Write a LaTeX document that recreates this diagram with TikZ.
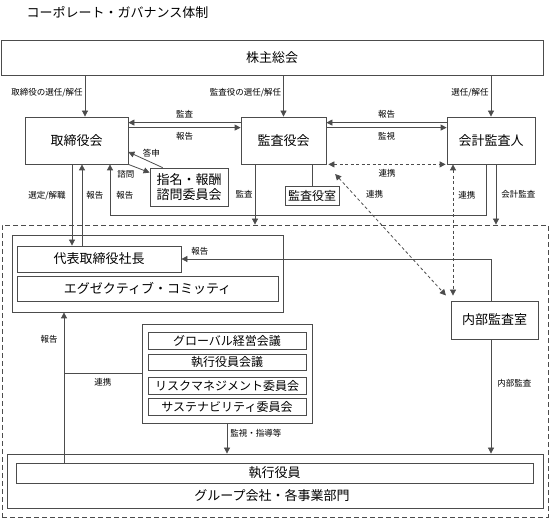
\documentclass[tikz,border=0pt]{standalone}
\usepackage{fontspec}
\setmainfont{Noto Sans CJK JP}
\usetikzlibrary{arrows.meta}
\definecolor{lc}{gray}{0.3}

\begin{document}
\begin{tikzpicture}[x=1pt, y=-1pt,
  box/.style={draw=lc, line width=.8pt, inner sep=0pt, align=center, font=\fontsize{13pt}{15pt}\selectfont},
  sbox/.style={box, font=\fontsize{12pt}{14pt}\selectfont},
  frame/.style={draw=lc, line width=.8pt, inner sep=0pt},
  lbl/.style={font=\fontsize{8.5pt}{10pt}\selectfont, inner sep=2pt},
  link/.style={draw=lc, line width=.8pt},
  arr/.style={link, -{Triangle[length=6pt,width=6pt]}},
  darr/.style={link, dash pattern=on 3pt off 2.5pt, {Triangle[length=6pt,width=6pt]}-{Triangle[length=6pt,width=6pt]}},
  opsbox/.style={draw=lc, line width=.8pt, dash pattern=on 5pt off 3pt}]
\useasboundingbox (0,0) rectangle (549,518);

%% columns and corners of the lines
\coordinate (xa) at (85,0);
\coordinate (xs) at (72,0);
\coordinate (xr) at (82,0);
\coordinate (xm) at (255,0);
\coordinate (xv) at (453,0);
\coordinate (xi) at (491,0);
\coordinate (xc) at (496,0);
\coordinate (xe) at (64,0);
\coordinate (rp1) at (486,215);
\coordinate (rp2) at (110,215);

%% boxes
\node[font=\fontsize{13pt}{15pt}\selectfont] (title) at (117.5,12) {コーポレート・ガバナンス体制};
\node[box, minimum width=542pt, minimum height=35pt] (gm) at (272,57.5) {株主総会};
\node[box, minimum width=103pt, minimum height=47pt] (bod) at (76.5,140.5) {取締役会};
\node[box, minimum width=85pt, minimum height=47pt] (asb) at (283.5,140.5) {監査役会};
\node[box, minimum width=88pt, minimum height=47pt] (aud) at (491,140.5) {会計監査人};
\node[box, minimum width=78pt, minimum height=38pt] (ncc) at (189,187) {指名・報酬\\諮問委員会};
\node[sbox, minimum width=54pt, minimum height=19pt] (aso) at (312,195.5) {監査役室};
\node[opsbox, minimum width=546pt, minimum height=292pt] (ops) at (275,371) {};
\node[frame, minimum width=271pt, minimum height=77pt] (topG) at (147.5,273.5) {};
\node[box, minimum width=164pt, minimum height=26pt] (ceo) at (99,259) {代表取締役社長};
\node[box, minimum width=261pt, minimum height=25pt] (exc) at (147.5,288.5) {エグゼクティブ・コミッティ};
\node[box, minimum width=87pt, minimum height=38pt] (iad) at (494.5,320) {内部監査室};
\node[frame, minimum width=170pt, minimum height=99pt] (cmG) at (227,373.5) {};
\node[sbox, minimum width=158pt, minimum height=17pt] (c1) at (227,340.5) {グローバル経営会議};
\node[sbox, minimum width=158pt, minimum height=16pt] (c2) at (227,362) {執行役員会議};
\node[sbox, minimum width=158pt, minimum height=17pt] (c3) at (227,385.5) {リスクマネジメント委員会};
\node[sbox, minimum width=158pt, minimum height=17pt] (c4) at (227,406.5) {サステナビリティ委員会};
\node[frame, minimum width=536pt, minimum height=54pt] (exG) at (275,481) {};
\node[box, minimum width=517pt, minimum height=20pt] (exo) at (274.5,473) {執行役員};
\node[font=\fontsize{13pt}{15pt}\selectfont] (grp) at (272,495.5) {グループ会社・各事業部門};

%% from the shareholders
\draw[arr] (gm.south -| xa) -- node[lbl, left, pos=.43]{取締役の選任/解任} (bod.north -| xa);
\draw[arr] (gm.south -| asb.north) -- node[lbl, left, pos=.43]{監査役の選任/解任} (asb.north);
\draw[arr] (gm.south -| aud.north) -- node[lbl, left, pos=.43]{選任/解任} (aud.north);

%% board, auditors, accounting auditor
\draw[arr] ([yshift=-6pt]asb.north west) -- node[lbl, above=2pt]{監査} ([yshift=-6pt]bod.north east);
\draw[arr] ([yshift=-11pt]bod.north east) -- node[lbl, below=2pt]{報告} ([yshift=-11pt]asb.north west);
\draw[arr] ([yshift=-6pt]aud.north west) -- node[lbl, above=2pt]{報告} ([yshift=-6pt]asb.north east);
\draw[arr] ([yshift=-11pt]asb.north east) -- node[lbl, below=2pt]{監視} ([yshift=-11pt]aud.north west);
\draw[darr] ([xshift=2pt]asb.south east) -- node[lbl, below=3pt]{連携} ([xshift=-1pt]aud.south west);

%% nomination and remuneration committee
\draw[arr] (bod.south east) -- node[lbl, below left, pos=.4]{諮問} ([yshift=-5pt]ncc.north west);
\draw[arr] ([xshift=13pt]ncc.north west) -- node[lbl, above right, pos=.6, inner sep=.5pt]{答申} ([yshift=-11.5pt]bod.east);

%% board and president
\draw[arr] (bod.south -| xs) -- node[lbl, left=4pt, pos=.38]{選定/解職} (ceo.north -| xs);
\draw[arr] (ceo.north -| xr) -- node[lbl, right=2pt, pos=.62]{報告} (bod.south -| xr);
\draw[arr] (aud.south -| rp1) -- (rp1) -- (rp2) -- node[lbl, right=4pt, pos=.39]{報告} (bod.south -| rp2);

%% audits into the executive side
\draw[arr] (asb.south -| xm) -- node[lbl, left=0pt, pos=.5]{監査} (ops.north -| xm);
\draw[link] (asb.south -| aso.north) -- (aso.north);
\draw[darr, shorten <=13pt, shorten >=7pt] (asb.south east) -- node[lbl, right=10pt, pos=.22]{連携} (iad.north west);
\draw[darr, shorten >=5pt] (aud.south -| xv) -- node[lbl, right=3pt, pos=.23]{連携} (iad.north -| xv);
\draw[arr] (aud.south -| xc) -- node[lbl, right=3pt, pos=.5]{会計監査} (ops.north -| xc);

%% internal audit office
\draw[arr] (iad.north -| xi) |- node[lbl, above=1pt, pos=.97]{報告} (ceo.east);
\draw[arr] (iad.south -| xi) -- node[lbl, right=4pt, pos=.38]{内部監査} (exG.north -| xi);

%% committees and executive officers
\draw[arr] (cmG.south) -- node[lbl, right=1pt, pos=.32]{監視・指導等} (cmG.south |- exG.north);
\draw[arr] (exo.north -| xe) -- node[lbl, left=4pt, pos=.82]{報告} (topG.south -| xe);
\draw[link] (cmG.west) -- node[lbl, below=2pt]{連携} (cmG.west -| xe);
\end{tikzpicture}
\end{document}
